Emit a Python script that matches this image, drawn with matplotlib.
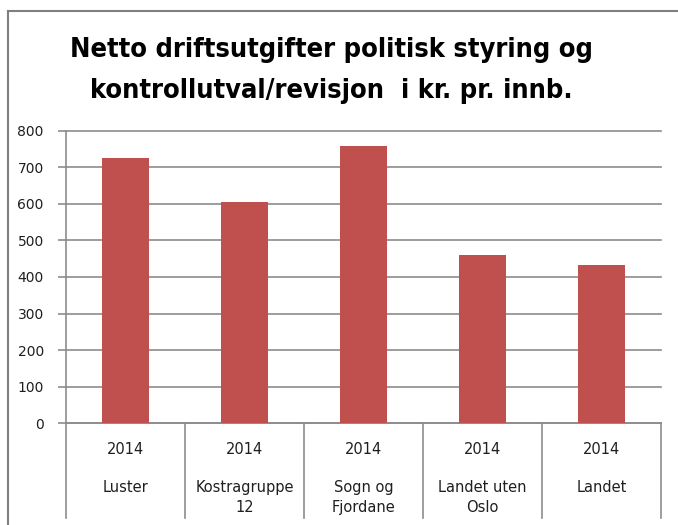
import matplotlib
matplotlib.use("Agg")
import matplotlib.pyplot as plt
from matplotlib.lines import Line2D

# data
categories = ["Luster", "Kostragruppe\n12", "Sogn og\nFjordane", "Landet uten\nOslo", "Landet"]
years = ["2014", "2014", "2014", "2014", "2014"]
values = [724, 606, 759, 459, 433]
yticks = [0, 100, 200, 300, 400, 500, 600, 700, 800]
title = "Netto driftsutgifter politisk styring og\nkontrollutval/revisjon  i kr. pr. innb."

bar_color = "#C0504D"
grid_color = "#8c8c8c"
text_color = "#1f1f1f"

fig = plt.figure(figsize=(6.78, 5.25), dpi=100)
ax = fig.add_axes([66 / 678, 1 - 423.3 / 525, 595 / 678, 292.6 / 525])

x = list(range(len(values)))
ax.bar(x, values, width=0.4, color=bar_color, zorder=3)

ax.set_xlim(-0.5, len(values) - 0.5)
ax.set_ylim(0, 800)
ax.set_yticks(yticks)
ax.set_yticklabels([str(v) for v in yticks], family="DejaVu Sans", fontsize=10, color=text_color)
ax.tick_params(axis="y", length=6, width=1.2, color=grid_color, pad=10)
ax.set_xticks([])
ax.yaxis.grid(True, color=grid_color, linewidth=1.2, zorder=0)
for gl in ax.get_ygridlines():
    gl.set_clip_on(False)

for side in ["top", "right"]:
    ax.spines[side].set_visible(False)
ax.spines["left"].set_color(grid_color)
ax.spines["left"].set_linewidth(1.2)
ax.spines["bottom"].set_color(grid_color)
ax.spines["bottom"].set_linewidth(1.2)

# category table under the axis
trans = ax.get_xaxis_transform()
for b in range(len(values) + 1):
    ax.add_line(Line2D([b - 0.5, b - 0.5], [0, -0.3236], transform=trans,
                       color=grid_color, linewidth=1.2, clip_on=False))
for i in x:
    ax.text(i, -0.09, years[i], transform=trans, ha="center", va="center",
            family="DejaVu Sans", fontsize=10.5, color=text_color)
    ax.text(i, -0.194, categories[i], transform=trans, ha="center", va="top",
            family="DejaVu Sans", fontsize=10.5, color=text_color, linespacing=1.4)

fig.text(0.489, 0.865, title, ha="center", va="center",
         family="DejaVu Sans", fontstretch="condensed", fontweight="bold",
         fontsize=19.5, linespacing=1.75)

# outer chart border (top and left visible)
fig.add_artist(Line2D([8 / 678, 8 / 678], [0, 1 - 11 / 525], transform=fig.transFigure,
                      color="#7f7f7f", linewidth=1.5))
fig.add_artist(Line2D([8 / 678, 1], [1 - 11 / 525, 1 - 11 / 525], transform=fig.transFigure,
                      color="#7f7f7f", linewidth=1.5))

fig.savefig("out.png", dpi=100)
